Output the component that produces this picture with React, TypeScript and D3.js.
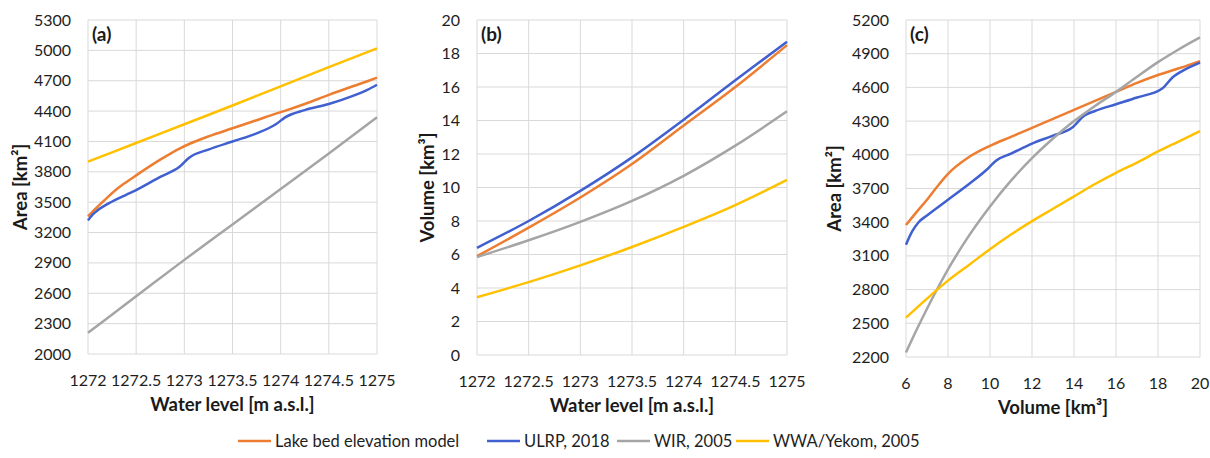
import * as d3 from 'd3';

// panel (a): area vs water level
const levels = [1272, 1272.05, 1272.1, 1272.2, 1272.3, 1272.4, 1272.5, 1272.75, 1272.95, 1273.05, 1273.25, 1273.5, 1273.75, 1273.95, 1274.05, 1274.25, 1274.5, 1274.75, 1274.9, 1275];
const areaLake = [3360, 3410, 3455, 3545, 3630, 3700, 3765, 3920, 4030, 4075, 4150, 4230, 4310, 4375, 4405, 4470, 4560, 4645, 4695, 4730];
const areaUlrp = [3320, 3380, 3420, 3480, 3530, 3575, 3620, 3750, 3850, 3940, 4020, 4100, 4180, 4270, 4340, 4410, 4470, 4550, 4610, 4660];
const wirLevels = [1272, 1272.5, 1273, 1273.5, 1274, 1274.5, 1275];
const areaWir = [2210, 2570, 2930, 3280, 3630, 3980, 4340];
const areaWwa = [3900, 4085, 4270, 4455, 4645, 4835, 5020];

// panel (b): volume vs water level
const volLake = [5.9, 7.6, 9.4, 11.4, 13.7, 16.0, 18.5];
const volUlrp = [6.4, 8.0, 9.8, 11.8, 14.05, 16.4, 18.7];
const volWir = [5.85, 6.85, 7.95, 9.2, 10.7, 12.5, 14.55];
const volWwa = [3.45, 4.35, 5.35, 6.45, 7.65, 8.95, 10.45];

// panel (c): area vs volume
const cLakeVol = [6, 6.5, 7, 7.5, 8, 9, 10, 11, 12, 13, 14, 15, 16, 17, 18, 19, 20];
const cLakeArea = [3375, 3490, 3600, 3720, 3830, 3980, 4080, 4160, 4240, 4320, 4400, 4480, 4560, 4640, 4710, 4770, 4835];
const cUlrpVol = [6, 6.3, 6.6, 7, 8, 9, 9.8, 10.3, 11, 12, 13, 13.9, 14.5, 15, 16, 17, 18.2, 18.7, 19.3, 20];
const cUlrpArea = [3200, 3320, 3400, 3460, 3600, 3740, 3860, 3950, 4010, 4100, 4170, 4240, 4350, 4390, 4450, 4510, 4590, 4690, 4760, 4820];
const cWirVol = [6, 6.5, 7, 7.5, 8, 9, 10, 11, 12, 13, 14, 15, 16, 17, 18, 19, 20];
const cWirArea = [2240, 2440, 2630, 2810, 2980, 3280, 3540, 3770, 3970, 4145, 4300, 4435, 4560, 4695, 4825, 4940, 5045];
const cWwaVol = [6, 7, 8, 9, 10, 11, 12, 13, 14, 15, 16, 17, 18, 19, 20];
const cWwaArea = [2550, 2720, 2880, 3020, 3160, 3290, 3410, 3520, 3630, 3740, 3840, 3930, 4030, 4120, 4210];

const seriesNames = ['Lake bed elevation model', 'ULRP, 2018', 'WIR, 2005', 'WWA/Yekom, 2005'];
const colors = ['#ED7D31', '#4060D0', '#A5A5A5', '#FFC000'];

const levelTicks = [1272, 1272.5, 1273, 1273.5, 1274, 1274.5, 1275];
const font = 'Lato, "Open Sans", sans-serif';

type Series = { xs: number[]; ys: number[] };
type Panel = {
  label: string;
  left: number; right: number; top: number; bottom: number;
  xDomain: [number, number]; yDomain: [number, number];
  xTicks: number[]; yStep: number;
  xTitle: string; yTitle: string; yTitleX: number;
  curve: d3.CurveFactory;
  series: Series[];
};

const panels: Panel[] = [
  {
    label: '(a)', left: 88, right: 377, top: 20, bottom: 354,
    xDomain: [1272, 1275], yDomain: [2000, 5300], xTicks: levelTicks, yStep: 300,
    xTitle: 'Water level [m a.s.l.]', yTitle: 'Area [km²]', yTitleX: 21,
    curve: d3.curveMonotoneX,
    series: [
      { xs: levels, ys: areaLake },
      { xs: levels, ys: areaUlrp },
      { xs: wirLevels, ys: areaWir },
      { xs: wirLevels, ys: areaWwa },
    ],
  },
  {
    label: '(b)', left: 477, right: 787, top: 20, bottom: 355,
    xDomain: [1272, 1275], yDomain: [0, 20], xTicks: levelTicks, yStep: 2,
    xTitle: 'Water level [m a.s.l.]', yTitle: 'Volume [km³]', yTitleX: 428,
    curve: d3.curveCatmullRom,
    series: [
      { xs: wirLevels, ys: volLake },
      { xs: wirLevels, ys: volUlrp },
      { xs: wirLevels, ys: volWir },
      { xs: wirLevels, ys: volWwa },
    ],
  },
  {
    label: '(c)', left: 906, right: 1200, top: 20, bottom: 357,
    xDomain: [6, 20], yDomain: [2200, 5200], xTicks: d3.range(6, 21, 2), yStep: 300,
    xTitle: 'Volume [km³]', yTitle: 'Area [km²]', yTitleX: 835,
    curve: d3.curveMonotoneX,
    series: [
      { xs: cLakeVol, ys: cLakeArea },
      { xs: cUlrpVol, ys: cUlrpArea },
      { xs: cWirVol, ys: cWirArea },
      { xs: cWwaVol, ys: cWwaArea },
    ],
  },
];

function PanelChart({ p }: { p: Panel }) {
  const x = d3.scaleLinear().domain(p.xDomain).range([p.left, p.right]);
  const y = d3.scaleLinear().domain(p.yDomain).range([p.bottom, p.top]);
  const yTicks = d3.range(p.yDomain[0], p.yDomain[1] + 0.001, p.yStep);
  const line = d3.line<[number, number]>()
    .x(d => x(d[0]))
    .y(d => y(d[1]))
    .curve(p.curve);
  const cy = (p.top + p.bottom) / 2;
  return (
    <g>
      {yTicks.map(t => (
        <g key={'y' + t}>
          <line x1={p.left} x2={p.right} y1={y(t)} y2={y(t)} stroke="#d9d9d9" strokeWidth={1} />
          <text x={p.left - 17} y={y(t) + 5.5} textAnchor="end" fontSize={16} fill="#1e1e1e">{t}</text>
        </g>
      ))}
      {p.xTicks.map(t => (
        <g key={'x' + t}>
          <line x1={x(t)} x2={x(t)} y1={p.top} y2={p.bottom} stroke="#d9d9d9" strokeWidth={1} />
          <text x={x(t)} y={p.bottom + 32} textAnchor="middle" fontSize={16} fill="#1e1e1e">{t}</text>
        </g>
      ))}
      {p.series.map((s, i) => (
        <path key={i} d={line(s.xs.map((v, j) => [v, s.ys[j]] as [number, number])) || ''}
          fill="none" stroke={colors[i]} strokeWidth={2.5} />
      ))}
      <text x={p.left + 4} y={p.top + 21} fontSize={19} fontWeight="bold" fill="#1a1a1a">{p.label}</text>
      <text x={(p.left + p.right) / 2} y={p.bottom + 57} textAnchor="middle" fontSize={18.5} fontWeight="bold" fill="#1a1a1a">{p.xTitle}</text>
      <text transform={`translate(${p.yTitleX + 6},${cy}) rotate(-90)`} textAnchor="middle" fontSize={18.5} fontWeight="bold" fill="#1a1a1a">{p.yTitle}</text>
    </g>
  );
}

const legendX = [238, 487, 617, 736];

export default function App() {
  return (
    <svg width={1210} height={458} style={{ position: 'absolute', left: 0, top: 0, background: '#fff' }} fontFamily={font}>
      <rect width={1210} height={458} fill="#fff" />
      {panels.map(p => <PanelChart key={p.label} p={p} />)}
      {seriesNames.map((n, i) => (
        <g key={n}>
          <line x1={legendX[i]} x2={legendX[i] + 33} y1={441} y2={441} stroke={colors[i]} strokeWidth={2.5} />
          <text x={legendX[i] + 37} y={447} fontSize={16.5} fill="#1e1e1e">{n}</text>
        </g>
      ))}
    </svg>
  );
}
